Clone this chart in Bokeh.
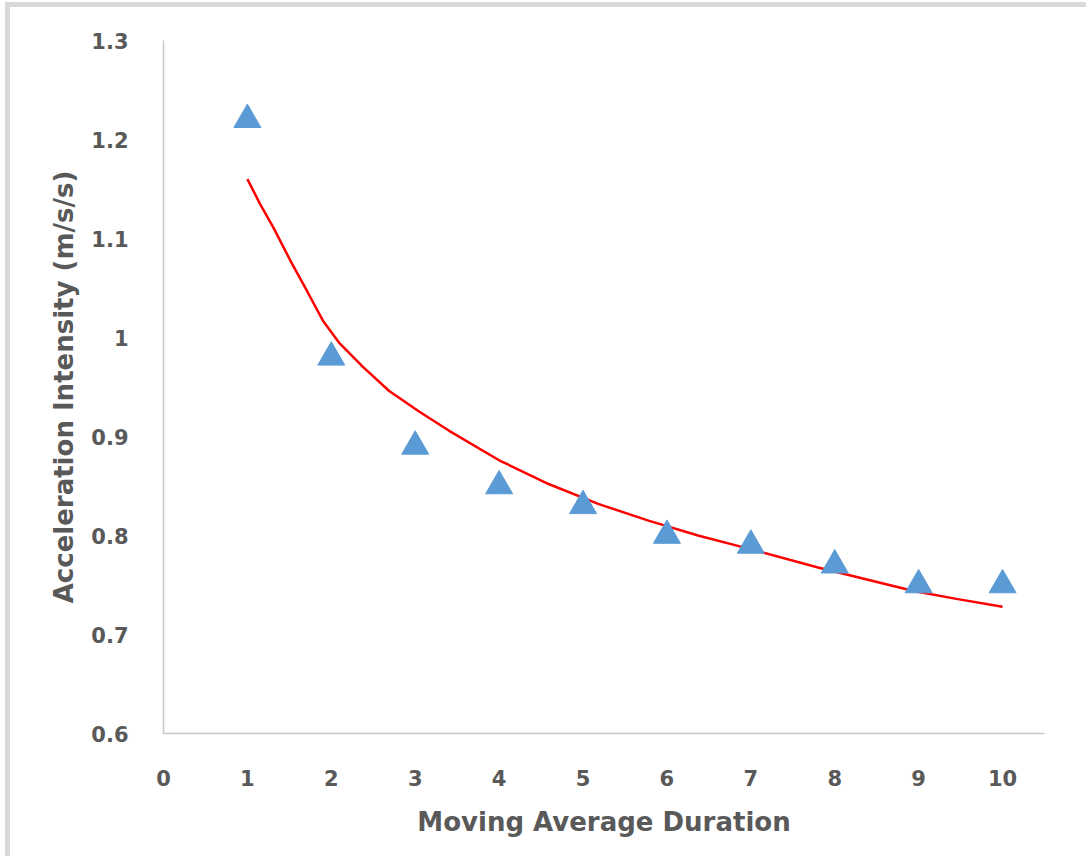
from bokeh.plotting import figure
from bokeh.models import Range1d, FixedTicker, ColumnDataSource
from bokeh.embed import file_html
from bokeh.resources import INLINE

# ---- data ----
durations = [1, 2, 3, 4, 5, 6, 7, 8, 9, 10]
intensity = [1.22, 0.98, 0.89, 0.85, 0.83, 0.80, 0.79, 0.77, 0.75, 0.75]

# red trend curve
trend_x = [1.0, 1.15, 1.31, 1.51, 1.71, 1.90, 2.10, 2.38, 2.69, 3.05, 3.40, 4.0,
           4.59, 5.18, 5.78, 6.37, 6.96, 7.79, 8.94, 9.45, 10.0]
trend_y = [1.160, 1.135, 1.111, 1.078, 1.047, 1.017, 0.994, 0.970, 0.946, 0.925, 0.906, 0.876,
           0.852, 0.832, 0.815, 0.800, 0.787, 0.768, 0.744, 0.736, 0.728]

x_ticks = [0, 1, 2, 3, 4, 5, 6, 7, 8, 9, 10]
y_ticks = [0.6, 0.7, 0.8, 0.9, 1.0, 1.1, 1.2, 1.3]
y_tick_labels = ["0.6", "0.7", "0.8", "0.9", "1", "1.1", "1.2", "1.3"]

x_title = "Moving Average Duration"
y_title = "Acceleration Intensity (m/s/s)"

FONT = "DejaVu Sans"
TXT = "#595959"

p = figure(width=1081, height=854, output_backend="svg", toolbar_location=None,
           x_range=Range1d(0, 10.5), y_range=Range1d(0.6, 1.3),
           min_border_left=153, min_border_right=47, min_border_top=33, min_border_bottom=128)
p.styles = {"border-top": "5px solid #d9d9d9", "border-left": "5px solid #d9d9d9",
            "margin-left": "5px", "margin-top": "2px"}
p.background_fill_color = "white"
p.border_fill_color = "white"
p.outline_line_color = None
p.xgrid.visible = False
p.ygrid.visible = False

p.xaxis.ticker = FixedTicker(ticks=x_ticks)
p.yaxis.ticker = FixedTicker(ticks=y_ticks)
p.yaxis.major_label_overrides = {t: s for t, s in zip(y_ticks, y_tick_labels)}

for ax in (p.xaxis, p.yaxis):
    ax.axis_line_color = "#c8c8c8"
    ax.axis_line_width = 1.5
    ax.major_tick_line_color = None
    ax.minor_tick_line_color = None
    ax.major_label_text_font = FONT
    ax.major_label_text_font_style = "bold"
    ax.major_label_text_font_size = "21px"
    ax.major_label_text_color = TXT
    ax.axis_label_text_font = FONT
    ax.axis_label_text_font_style = "bold"
    ax.axis_label_text_font_size = "26px"
    ax.axis_label_text_color = TXT

p.xaxis.axis_label = x_title
p.yaxis.axis_label = y_title
p.xaxis.major_label_standoff = 30
p.yaxis.major_label_standoff = 29
p.xaxis.axis_label_standoff = 18
p.yaxis.axis_label_standoff = 9

p.line(trend_x, trend_y, line_color="#ff0000", line_width=2.5)
src = ColumnDataSource(dict(x=durations, y=intensity))
p.scatter("x", "y", source=src, marker="triangle", size=27,
          fill_color="#5b9bd5", line_color="#5b9bd5")

open("out.html", "w").write(file_html(p, INLINE))
